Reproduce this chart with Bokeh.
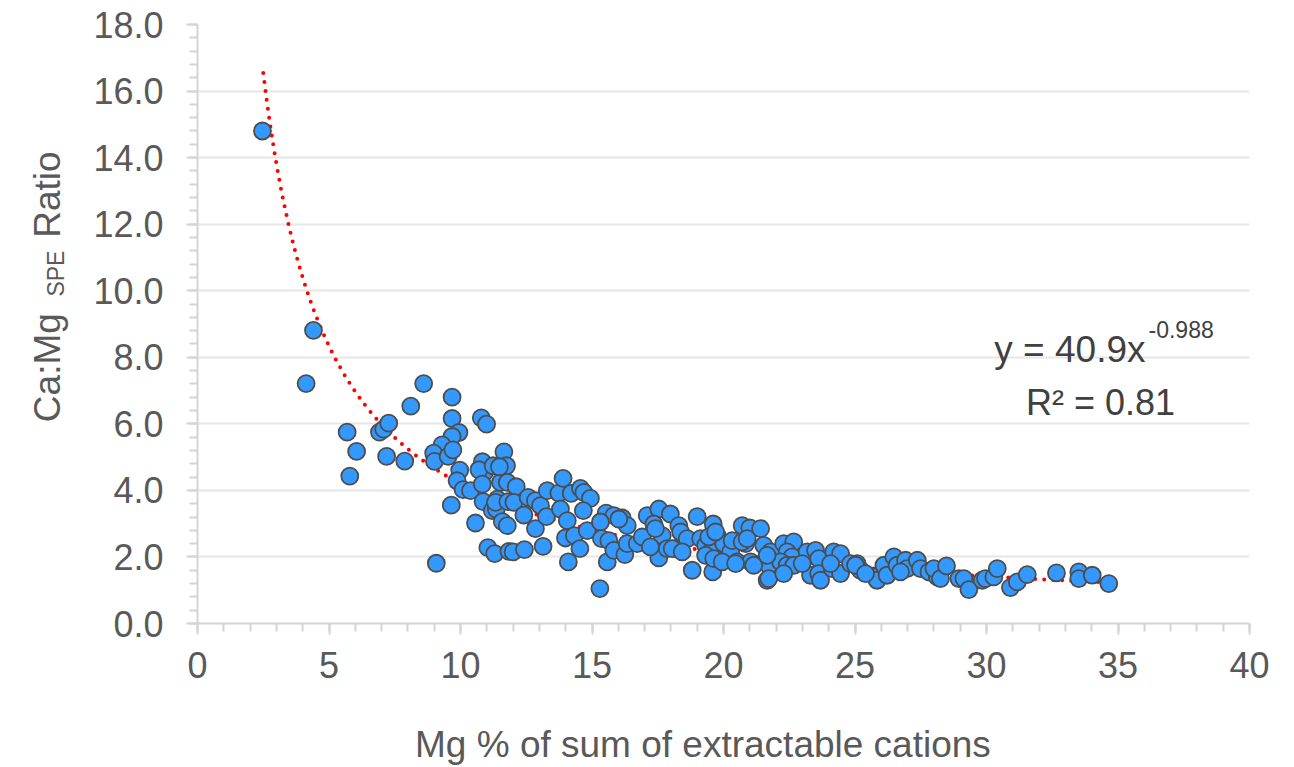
import numpy as np
from bokeh.plotting import figure
from bokeh.layouts import row
from bokeh.models import (Range1d, SingleIntervalTicker, NumeralTickFormatter, Label,
                          ColumnDataSource)
from bokeh.embed import file_html
from bokeh.resources import INLINE

# ---- data ----
mg_pct = [
    2.47, 4.41, 4.13, 8.60, 9.68, 8.11, 10.79, 10.99, 9.68, 5.69,
    6.92, 7.08, 7.27, 6.05, 5.79, 7.19, 7.88, 9.08, 9.65, 9.94,
    9.68, 9.30, 8.98, 9.01, 9.53, 9.71, 9.97, 9.87, 10.10, 10.38,
    10.57, 11.04, 11.30, 10.83, 10.91, 10.70, 10.83, 10.86, 11.21, 11.36,
    11.59, 11.78, 11.24, 11.65, 11.75, 11.52, 11.78, 11.40, 11.84, 11.48,
    12.12, 11.33, 11.80, 12.03, 12.57, 12.41, 12.85, 13.04, 12.85, 13.30,
    13.27, 13.74, 13.90, 14.21, 13.80, 14.06, 13.99, 14.33, 14.56, 14.69,
    14.94, 14.67, 14.82, 14.54, 12.00, 12.43, 13.14, 14.10, 15.30, 15.54,
    15.83, 16.15, 16.34, 15.32, 15.36, 15.64, 15.58, 15.83, 16.25, 16.34,
    16.72, 16.91, 17.10, 17.54, 17.35, 17.98, 17.67, 17.54, 17.86, 18.30,
    18.37, 18.17, 18.62, 19.00, 18.81, 19.13, 19.32, 19.61, 19.76, 19.59,
    19.51, 20.01, 20.27, 20.71, 21.00, 21.41, 20.52, 20.84, 21.03, 21.53,
    21.72, 21.66, 16.02, 17.22, 17.41, 18.05, 18.43, 19.44, 19.70, 19.32,
    19.63, 20.33, 20.71, 20.90, 19.95, 20.46, 21.15, 21.79, 21.72, 22.29,
    22.67, 22.42, 22.61, 22.17, 22.42, 22.67, 22.29, 23.18, 23.50, 23.62,
    23.31, 23.62, 23.69, 22.99, 24.19, 24.45, 24.13, 24.45, 24.07, 24.83,
    25.08, 25.21, 25.78, 25.84, 26.10, 26.22, 26.48, 26.60, 26.92, 26.98,
    27.37, 27.49, 27.81, 28.13, 28.00, 26.73, 28.25, 28.48, 28.95, 29.14,
    29.33, 29.84, 29.96, 30.28, 30.41, 30.91, 31.17, 31.55, 32.66, 33.51,
    33.51, 34.02, 34.65, 21.66, 25.02, 25.40,
]
ca_mg_ratio = [
    14.80, 8.81, 7.21, 7.21, 6.80, 6.53, 6.18, 5.99, 6.16, 5.75,
    5.75, 5.84, 6.02, 5.17, 4.43, 5.02, 4.88, 1.81, 3.56, 5.74,
    5.62, 5.37, 5.12, 4.87, 5.02, 5.22, 4.61, 4.29, 4.02, 3.99,
    3.02, 2.28, 2.10, 4.86, 4.54, 4.62, 4.19, 3.66, 3.39, 3.44,
    3.06, 2.94, 4.74, 5.16, 4.74, 4.24, 4.24, 3.74, 2.17, 4.71,
    4.11, 3.64, 3.66, 3.64, 3.79, 3.26, 3.69, 3.54, 2.85, 3.99,
    3.21, 3.92, 4.36, 3.91, 3.44, 3.09, 2.57, 2.64, 4.06, 3.94,
    3.76, 3.39, 2.79, 2.25, 2.15, 2.22, 2.32, 1.85, 1.05, 3.32,
    3.24, 3.17, 2.94, 3.05, 2.55, 2.49, 1.85, 2.20, 2.07, 2.40,
    2.40, 2.60, 3.24, 3.44, 2.99, 3.29, 2.64, 1.97, 2.25, 2.94,
    2.75, 2.25, 2.55, 3.21, 1.60, 2.55, 2.35, 2.99, 2.64, 1.55,
    2.15, 2.40, 2.15, 2.94, 2.87, 2.85, 1.85, 2.40, 1.85, 2.35,
    1.75, 1.30, 3.14, 2.30, 2.85, 2.25, 2.15, 2.60, 2.75, 2.05,
    1.95, 2.49, 2.45, 2.55, 1.85, 1.80, 1.75, 2.15, 1.35, 2.40,
    2.45, 2.15, 2.00, 1.85, 1.75, 1.75, 1.50, 2.15, 2.20, 1.95,
    1.45, 1.50, 1.30, 1.80, 2.15, 2.10, 1.65, 1.50, 1.80, 1.80,
    1.80, 1.60, 1.40, 1.30, 1.75, 1.45, 2.00, 1.75, 1.90, 1.65,
    1.90, 1.65, 1.55, 1.40, 1.65, 1.55, 1.35, 1.73, 1.35, 1.35,
    1.02, 1.30, 1.35, 1.40, 1.65, 1.08, 1.25, 1.47, 1.52, 1.55,
    1.35, 1.45, 1.20, 2.05, 1.75, 1.50,
]
# power trendline as printed on the chart: y = 40.9 x^-0.988, R^2 = 0.81
trend_coef = 40.9
trend_exp = -0.988
trend_r2 = 0.81
x_title = "Mg % of sum of extractable cations"
y_title_parts = ["Ca:Mg", "SPE", "Ratio"]

FONT = "Liberation Sans"
AXIS_TEXT = "#595959"

# ---- main plot ----
p = figure(width=1224, height=767, x_range=Range1d(0, 40), y_range=Range1d(0, 18),
           output_backend="svg", toolbar_location=None,
           min_border_left=127, min_border_right=45, min_border_top=24, min_border_bottom=142)
p.outline_line_color = None
p.background_fill_color = "white"
p.border_fill_color = "white"

p.xgrid.visible = False
p.ygrid.grid_line_color = "#e6e6e6"
p.ygrid.grid_line_width = 2

p.xaxis.ticker = SingleIntervalTicker(interval=5, num_minor_ticks=5)
p.yaxis.ticker = SingleIntervalTicker(interval=2, num_minor_ticks=5)
p.yaxis.formatter = NumeralTickFormatter(format="0.0")

for ax in (p.xaxis[0], p.yaxis[0]):
    ax.axis_line_color = "#d4d4d4"
    ax.axis_line_width = 2
    ax.major_tick_line_color = "#d4d4d4"
    ax.minor_tick_line_color = "#d4d4d4"
    ax.major_tick_line_width = 2
    ax.minor_tick_line_width = 2
    ax.major_tick_in = 0
    ax.minor_tick_in = 0
    ax.major_label_text_font = FONT
    ax.major_label_text_font_size = "36px"
    ax.major_label_text_color = AXIS_TEXT
p.xaxis.major_tick_out = 11
p.xaxis.minor_tick_out = 8
p.yaxis.major_tick_out = 11
p.yaxis.minor_tick_out = 8
p.xaxis.major_label_standoff = 17
p.yaxis.major_label_standoff = 23

# x axis title (trailing no-break spaces shift the centred text slightly left, as in the reference)
p.xaxis.axis_label = x_title + "\u00a0" * 4
p.xaxis.axis_label_text_font = FONT
p.xaxis.axis_label_text_font_size = "37px"
p.xaxis.axis_label_text_font_style = "normal"
p.xaxis.axis_label_text_color = AXIS_TEXT
p.xaxis.axis_label_standoff = 43

# trendline from the printed coefficients
tx = np.linspace(2.5, 34.7, 300)
ty = trend_coef * tx ** trend_exp
p.line(tx, ty, line_color="#ff0000", line_width=4, line_dash="0 9", line_cap="round")

src = ColumnDataSource(dict(x=mg_pct, y=ca_mg_ratio))
p.scatter("x", "y", source=src, size=17, fill_color="#3399ff", line_color="#4d4d4d", line_width=1.8)

# positions of annotation text converted from page pixels into data units
def dx(px):
    return (px - 70 - 127) / (1052 / 40)

def dy(py):
    return (625 - py) / (601 / 18)

p.add_layout(Label(x=dx(1145), y=dy(350), text=f"y = {trend_coef}x", text_align="right",
                   text_baseline="alphabetic", text_font=FONT, text_font_size="37px",
                   text_color="#404040"))
p.add_layout(Label(x=dx(1148), y=dy(330), text=f"{trend_exp}", text_align="left",
                   text_baseline="alphabetic", text_font=FONT, text_font_size="23px",
                   text_color="#404040"))
p.add_layout(Label(x=dx(1100), y=dy(403), text=f"R² = {trend_r2}", text_align="center",
                   text_baseline="alphabetic", text_font=FONT, text_font_size="36px",
                   text_color="#404040"))

# ---- y title strip: same vertical frame and range as the main plot ----
yt = figure(width=70, height=767, x_range=Range1d(0, 70), y_range=Range1d(0, 18),
            output_backend="svg", toolbar_location=None,
            x_axis_location=None, y_axis_location=None,
            min_border_left=0, min_border_right=0, min_border_top=24, min_border_bottom=142)
yt.outline_line_color = None
yt.grid.visible = False
for txt, px, py, size in ((y_title_parts[0], 47, 423, "37px"),
                          (y_title_parts[1], 55, 297, "23px"),
                          (y_title_parts[2], 47, 238, "37px")):
    yt.add_layout(Label(x=px, y=dy(py), text=txt, angle=np.pi / 2, text_align="left",
                        text_baseline="alphabetic", text_font=FONT, text_font_size=size,
                        text_color=AXIS_TEXT))

layout = row(yt, p, spacing=0)
open("out.html", "w").write(file_html(layout, INLINE))
